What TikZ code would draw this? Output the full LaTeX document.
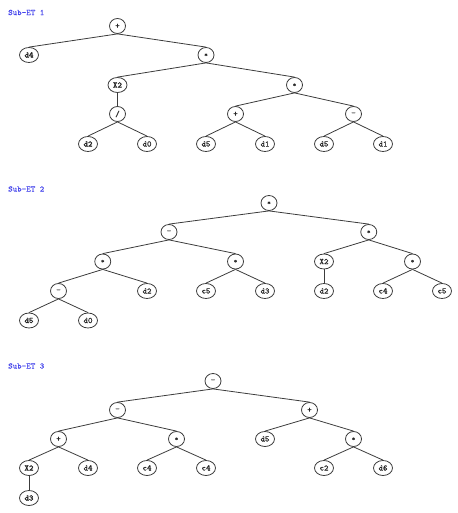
\documentclass[tikz,border=0pt]{standalone}
\usepackage{fontspec}
\newfontfamily\nmono[FakeBold=0.45]{Latin Modern Mono}
\newfontfamily\bmono[FakeBold=2.0]{Latin Modern Mono}
\usetikzlibrary{shapes.geometric}
\definecolor{edgegray}{RGB}{60,60,60}
\definecolor{labelblue}{RGB}{70,70,235}
\newcommand\opstar{\raisebox{-1.6pt}{\fontsize{6.5}{7}\selectfont *}}
\tikzset{
  tn/.style={ellipse,draw=edgegray,line width=0.8pt,minimum width=19pt,minimum height=15pt,inner sep=0pt,font=\nmono\fontsize{8.5}{9}\selectfont,text=black!85},
  op/.style={tn,minimum width=16pt},
  bf/.style={font=\bmono\fontsize{8.5}{9}\selectfont},
  edge/.style={draw=edgegray,line width=0.8pt},
  lbl/.style={anchor=west,inner sep=0pt,text=labelblue,font=\nmono\fontsize{8.5}{9}\selectfont}
}
\begin{document}
\begin{tikzpicture}[x=1pt,y=-1pt]
\useasboundingbox (0,0) rectangle (457,513);
% labels
\node[lbl] (l1) at (8,12.5) {Sub-ET 1};
\node[lbl] (l2) at (8,189) {Sub-ET 2};
\node[lbl] (l3) at (8,366) {Sub-ET 3};
% Tree 1
\node[op] (t1r) at (117.5,26) {+};
\node[tn,bf] (t1a) at (29,55) {d4};
\node[op] (t1b) at (206,55) {\opstar};
\node[tn,bf] (t1c) at (117.5,85) {X2};
\node[op] (t1d) at (294.5,85) {\opstar};
\node[op] (t1e) at (117.5,114) {/};
\node[op] (t1f) at (235.5,114) {+};
\node[op] (t1g) at (353.5,114) {-};
\node[tn,bf] (t1h) at (88,144) {d2};
\node[tn] (t1i) at (147,144) {d0};
\node[tn] (t1j) at (206,144) {d5};
\node[tn] (t1k) at (265,144) {d1};
\node[tn] (t1l) at (324,144) {d5};
\node[tn] (t1m) at (383,144) {d1};
\foreach \p/\c in {t1r/t1a,t1r/t1b,t1b/t1c,t1b/t1d,t1c/t1e,t1d/t1f,t1d/t1g,t1e/t1h,t1e/t1i,t1f/t1j,t1f/t1k,t1g/t1l,t1g/t1m}
  \draw[edge] (\p.south) -- (\c.north);
% Tree 2
\node[op] (t2r) at (269,203) {\opstar};
\node[op] (t2a) at (169,232) {-};
\node[op] (t2b) at (368.75,232) {\opstar};
\node[op] (t2c) at (102.75,261.5) {\opstar};
\node[op] (t2d) at (235.5,261.5) {\opstar};
\node[tn] (t2e) at (324,261.5) {X2};
\node[op] (t2f) at (412.5,261.5) {\opstar};
\node[op] (t2g) at (58.5,291) {-};
\node[tn] (t2h) at (147,291) {d2};
\node[tn] (t2i) at (206,291) {c5};
\node[tn] (t2j) at (265,291) {d3};
\node[tn] (t2k) at (324,291) {d2};
\node[tn] (t2l) at (383,291) {c4};
\node[tn] (t2m) at (442,291) {c5};
\node[tn,bf] (t2n) at (29,320.5) {d5};
\node[tn] (t2o) at (88,320.5) {d0};
\foreach \p/\c in {t2r/t2a,t2r/t2b,t2a/t2c,t2a/t2d,t2b/t2e,t2b/t2f,t2c/t2g,t2c/t2h,t2d/t2i,t2d/t2j,t2e/t2k,t2f/t2l,t2f/t2m,t2g/t2n,t2g/t2o}
  \draw[edge] (\p.south) -- (\c.north);
% Tree 3
\node[op] (t3r) at (213,381) {-};
\node[op] (t3a) at (117.5,410) {-};
\node[op] (t3b) at (309.5,410) {+};
\node[op] (t3c) at (58.5,439) {+};
\node[op] (t3d) at (176.5,439) {\opstar};
\node[tn] (t3e) at (265,439) {d5};
\node[op] (t3f) at (353.5,439) {\opstar};
\node[tn,bf] (t3g) at (29,468) {X2};
\node[tn] (t3h) at (88,468) {d4};
\node[tn] (t3i) at (147,468) {c4};
\node[tn] (t3j) at (206,468) {c4};
\node[tn] (t3k) at (324,468) {c2};
\node[tn] (t3l) at (383,468) {d6};
\node[tn,bf] (t3m) at (29,498) {d3};
\foreach \p/\c in {t3r/t3a,t3r/t3b,t3a/t3c,t3a/t3d,t3b/t3e,t3b/t3f,t3c/t3g,t3c/t3h,t3d/t3i,t3d/t3j,t3f/t3k,t3f/t3l,t3g/t3m}
  \draw[edge] (\p.south) -- (\c.north);
\end{tikzpicture}
\end{document}
